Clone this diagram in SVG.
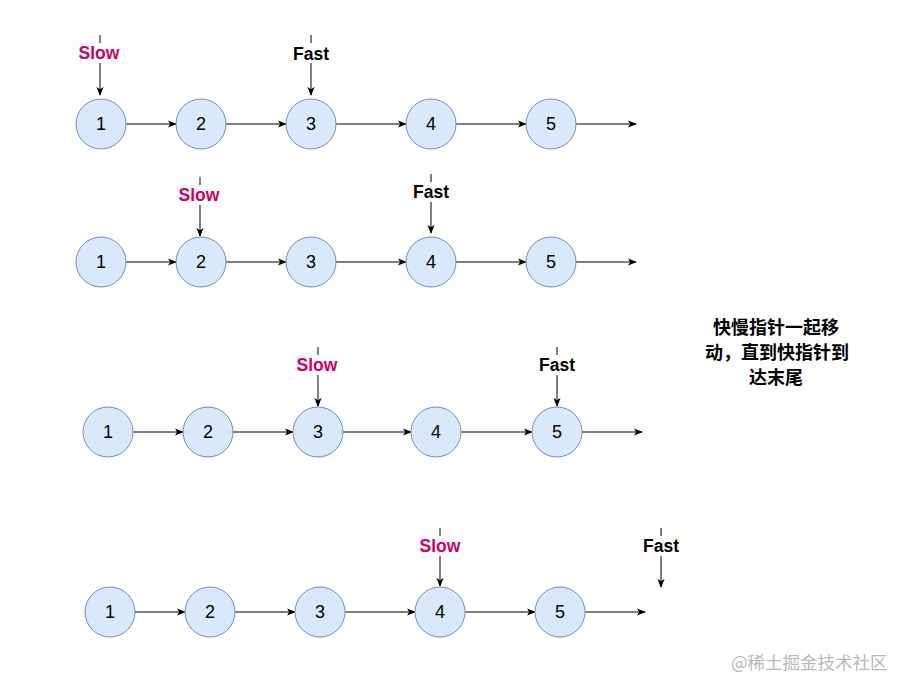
<svg xmlns="http://www.w3.org/2000/svg" width="898" height="679" viewBox="0 0 898 679">
<style>
.n circle{fill:#dae8fc;stroke:#6c8ebf;stroke-width:1}
.n text{font-family:"Liberation Sans",Arial,sans-serif;font-size:18px;fill:#000;text-anchor:middle;dominant-baseline:central}
.e line{stroke:#000;stroke-width:1}
.e line.a{marker-end:url(#ah)}
.lbl{font-family:"Liberation Sans",Arial,sans-serif;font-size:17.5px;font-weight:bold;text-anchor:middle;dominant-baseline:central}
.slow{fill:#cc0066}
.fast{fill:#000}
.cn{font-family:"Liberation Sans","Noto Sans CJK SC",sans-serif;font-size:18px;font-weight:bold;text-anchor:middle;fill:#000}
.wm{font-family:"Noto Sans CJK SC",sans-serif;font-size:17.5px;fill:#b8b8b8}
</style>
<defs>
<marker id="ah" viewBox="0 0 10 10" refX="9" refY="5" markerWidth="9" markerHeight="9" markerUnits="userSpaceOnUse" orient="auto">
<path d="M0,1 L10,5 L0,9 L2.5,5 Z" fill="#000"/>
</marker>
</defs>
<rect width="898" height="679" fill="#fff"/>

<g class="e" id="connectors">
<line class="a" x1="126" y1="124" x2="176" y2="124"/>
<line class="a" x1="226" y1="124" x2="286" y2="124"/>
<line class="a" x1="336" y1="124" x2="406" y2="124"/>
<line class="a" x1="456" y1="124" x2="526" y2="124"/>
<line class="a" x1="576" y1="124" x2="636" y2="124"/>
<line x1="100" y1="35" x2="100" y2="43"/>
<line class="a" x1="100" y1="63" x2="100" y2="95"/>
<line x1="311" y1="35" x2="311" y2="43"/>
<line class="a" x1="311" y1="63" x2="311" y2="95"/>
<line class="a" x1="126" y1="262" x2="176" y2="262"/>
<line class="a" x1="226" y1="262" x2="286" y2="262"/>
<line class="a" x1="336" y1="262" x2="406" y2="262"/>
<line class="a" x1="456" y1="262" x2="526" y2="262"/>
<line class="a" x1="576" y1="262" x2="636" y2="262"/>
<line x1="200" y1="177" x2="200" y2="185"/>
<line class="a" x1="200" y1="205" x2="200" y2="236"/>
<line x1="431" y1="174" x2="431" y2="182"/>
<line class="a" x1="431" y1="202" x2="431" y2="233"/>
<line class="a" x1="133" y1="432" x2="183" y2="432"/>
<line class="a" x1="233" y1="432" x2="293" y2="432"/>
<line class="a" x1="343" y1="432" x2="411" y2="432"/>
<line class="a" x1="461" y1="432" x2="532" y2="432"/>
<line class="a" x1="582" y1="432" x2="642" y2="432"/>
<line x1="318" y1="347" x2="318" y2="355"/>
<line class="a" x1="318" y1="375" x2="318" y2="406"/>
<line x1="557" y1="347" x2="557" y2="355"/>
<line class="a" x1="557" y1="375" x2="557" y2="406"/>
<line class="a" x1="135" y1="612" x2="185" y2="612"/>
<line class="a" x1="235" y1="612" x2="295" y2="612"/>
<line class="a" x1="345" y1="612" x2="415" y2="612"/>
<line class="a" x1="465" y1="612" x2="535" y2="612"/>
<line class="a" x1="585" y1="612" x2="645" y2="612"/>
<line x1="440" y1="528" x2="440" y2="536"/>
<line class="a" x1="440" y1="556" x2="440" y2="586"/>
<line x1="661" y1="528" x2="661" y2="536"/>
<line class="a" x1="661" y1="556" x2="661" y2="587"/>
</g>

<g class="n" id="r1n1"><circle cx="101" cy="124" r="25"/><text x="101" y="124">1</text></g>
<g class="n" id="r1n2"><circle cx="201" cy="124" r="25"/><text x="201" y="124">2</text></g>
<g class="n" id="r1n3"><circle cx="311" cy="124" r="25"/><text x="311" y="124">3</text></g>
<g class="n" id="r1n4"><circle cx="431" cy="124" r="25"/><text x="431" y="124">4</text></g>
<g class="n" id="r1n5"><circle cx="551" cy="124" r="25"/><text x="551" y="124">5</text></g>

<g class="n" id="r2n1"><circle cx="101" cy="262" r="25"/><text x="101" y="262">1</text></g>
<g class="n" id="r2n2"><circle cx="201" cy="262" r="25"/><text x="201" y="262">2</text></g>
<g class="n" id="r2n3"><circle cx="311" cy="262" r="25"/><text x="311" y="262">3</text></g>
<g class="n" id="r2n4"><circle cx="431" cy="262" r="25"/><text x="431" y="262">4</text></g>
<g class="n" id="r2n5"><circle cx="551" cy="262" r="25"/><text x="551" y="262">5</text></g>

<g class="n" id="r3n1"><circle cx="108" cy="432" r="25"/><text x="108" y="432">1</text></g>
<g class="n" id="r3n2"><circle cx="208" cy="432" r="25"/><text x="208" y="432">2</text></g>
<g class="n" id="r3n3"><circle cx="318" cy="432" r="25"/><text x="318" y="432">3</text></g>
<g class="n" id="r3n4"><circle cx="436" cy="432" r="25"/><text x="436" y="432">4</text></g>
<g class="n" id="r3n5"><circle cx="557" cy="432" r="25"/><text x="557" y="432">5</text></g>

<g class="n" id="r4n1"><circle cx="110" cy="612" r="25"/><text x="110" y="612">1</text></g>
<g class="n" id="r4n2"><circle cx="210" cy="612" r="25"/><text x="210" y="612">2</text></g>
<g class="n" id="r4n3"><circle cx="320" cy="612" r="25"/><text x="320" y="612">3</text></g>
<g class="n" id="r4n4"><circle cx="440" cy="612" r="25"/><text x="440" y="612">4</text></g>
<g class="n" id="r4n5"><circle cx="560" cy="612" r="25"/><text x="560" y="612">5</text></g>

<g id="labels">
<text class="lbl slow" x="99" y="53">Slow</text>
<text class="lbl fast" x="311" y="54">Fast</text>
<text class="lbl slow" x="199" y="195">Slow</text>
<text class="lbl fast" x="431" y="192">Fast</text>
<text class="lbl slow" x="317" y="365">Slow</text>
<text class="lbl fast" x="557" y="365">Fast</text>
<text class="lbl slow" x="440" y="546">Slow</text>
<text class="lbl fast" x="661" y="546">Fast</text>
</g>

<g id="note">
<text class="cn" x="776" y="334">快慢指针一起移</text>
<text class="cn" x="777" y="359">动，直到快指针到</text>
<text class="cn" x="776" y="384">达末尾</text>
</g>

<text class="wm" x="731" y="669">@稀土掘金技术社区</text>
</svg>
